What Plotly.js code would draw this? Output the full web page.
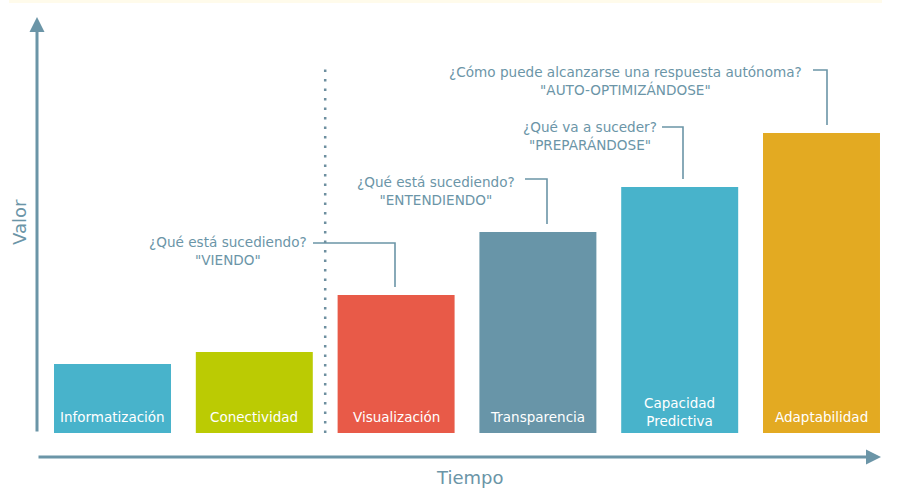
<!DOCTYPE html>
<html>
<head>
<meta charset="utf-8">
<script src="https://cdn.plot.ly/plotly-3.0.1.min.js"></script>
<style>
  html, body { margin: 0; padding: 0; background: #fff; }
  #chart { width: 900px; height: 502px; }
</style>
</head>
<body>
<div id="chart"></div>
<script>
// etapas (categorías) y su valor relativo
const etapas = ['Informatización', 'Conectividad', 'Visualización', 'Transparencia', 'Capacidad Predictiva', 'Adaptabilidad'];
const etiquetas = ['Informatización', 'Conectividad', 'Visualización', 'Transparencia', 'Capacidad<br>Predictiva', 'Adaptabilidad'];
const valores = [2.3, 2.7, 4.6, 6.7, 8.2, 10];
const colores = ['#48b3cb', '#bbcb03', '#e85a48', '#6895a8', '#48b3cb', '#e3aa22'];

// preguntas / respuestas por etapa (desde Visualización)
const preguntas = ['¿Qué está sucediendo?', '¿Qué está sucediendo?', '¿Qué va a suceder?', '¿Cómo puede alcanzarse una respuesta autónoma?'];
const respuestas = ['"VIENDO"', '"ENTENDIENDO"', '"PREPARÁNDOSE"', '"AUTO-OPTIMIZÁNDOSE"'];

const azul = '#6b95a7';
const fuente = 'DejaVu Sans, sans-serif';

// 30 px por unidad, base en y=433 px
const PX = 30;
const toY = p => (433 - p) / PX;          // pixel y -> dato
const toX = p => (p - 112.5) / 141.8;     // pixel x -> índice de categoría

const trace = {
    type: 'bar',
    x: etapas.map((_, i) => i),
    y: valores,
    marker: { color: colores, line: { width: 0 } },
    hoverinfo: 'skip'
};

const annotations = [];
const shapes = [];

// etiquetas dentro de las barras
etiquetas.forEach((t, i) => {
    const lines = t.split('<br>').length;
    annotations.push({
        x: i, y: lines > 1 ? toY(411.5) : toY(417),
        xref: 'x', yref: 'y', text: t, showarrow: false,
        font: { family: fuente, size: 13.5, color: '#ffffff' },
        xanchor: 'center', yanchor: 'middle', align: 'center'
    });
});

// bloques de texto y conectores
const bloqueX = [228, 436, 590, 625];
const bloqueY = [251, 191, 136, 81];
const lineaY = [243, 179, 127, 70];
const lineaX0 = [313, 525, 662, 813];
const lineaX1 = [395, 547, 683, 827];
preguntas.forEach((q, k) => {
    const i = k + 2;
    annotations.push({
        x: toX(bloqueX[k]), y: toY(bloqueY[k]), xref: 'x', yref: 'y',
        text: q + '<br>' + respuestas[k], showarrow: false,
        font: { family: fuente, size: 13.6, color: azul },
        xanchor: 'center', yanchor: 'middle', align: 'center'
    });
    shapes.push({
        type: 'path', xref: 'x', yref: 'y',
        path: 'M ' + toX(lineaX0[k]) + ' ' + toY(lineaY[k]) +
              ' L ' + toX(lineaX1[k]) + ' ' + toY(lineaY[k]) +
              ' L ' + toX(lineaX1[k]) + ' ' + (valores[i] + 8 / PX),
        line: { color: azul, width: 1.6 }
    });
});

// línea punteada entre Conectividad y Visualización
shapes.push({
    type: 'line', xref: 'x', yref: 'y', x0: 1.5, x1: 1.5, y0: 0, y1: toY(63),
    line: { color: '#6d8f9f', width: 2.5, dash: '2.5px,7px' }
});
// franja amarilla arriba
shapes.push({
    type: 'rect', xref: 'paper', yref: 'paper', x0: 0.01, x1: 0.98, y0: 1 - 3 / 502, y1: 1,
    fillcolor: '#fffbeb', line: { width: 0 }, layer: 'below'
});

// ejes con flecha
annotations.push({
    x: 37 / 900, y: 1 - 17 / 502, xref: 'paper', yref: 'paper', text: '',
    showarrow: true, ax: 0, ay: 416,
    arrowhead: 2, arrowsize: 1, arrowwidth: 3, arrowcolor: azul
});
annotations.push({
    x: 881 / 900, y: 1 - 457 / 502, xref: 'paper', yref: 'paper', text: '',
    showarrow: true, ax: -844, ay: 0,
    arrowhead: 2, arrowsize: 1, arrowwidth: 3, arrowcolor: azul
});
annotations.push({
    x: 470 / 900, y: 1 - 477 / 502, xref: 'paper', yref: 'paper', text: 'Tiempo',
    showarrow: false, font: { family: fuente, size: 18, color: azul },
    xanchor: 'center', yanchor: 'middle'
});
annotations.push({
    x: 19 / 900, y: 1 - 222 / 502, xref: 'paper', yref: 'paper', text: 'Valor',
    showarrow: false, textangle: -90, font: { family: fuente, size: 18, color: azul },
    xanchor: 'center', yanchor: 'middle'
});

const layout = {
    width: 900, height: 502,
    margin: { l: 0, r: 0, t: 0, b: 0 },
    paper_bgcolor: '#ffffff', plot_bgcolor: '#ffffff',
    bargap: 0.175,
    showlegend: false,
    xaxis: { range: [toX(0), toX(900)], visible: false, fixedrange: true },
    yaxis: { range: [toY(502), toY(0)], visible: false, fixedrange: true },
    annotations: annotations,
    shapes: shapes
};

Plotly.newPlot('chart', [trace], layout, { displayModeBar: false, staticPlot: true });
</script>
</body>
</html>
